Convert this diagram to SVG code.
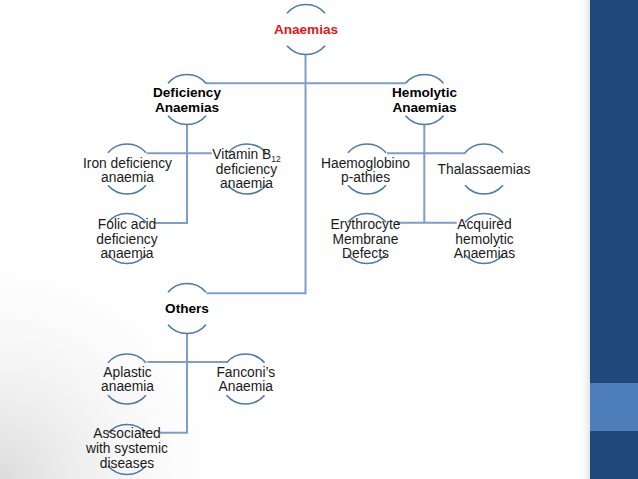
<svg xmlns="http://www.w3.org/2000/svg" width="638" height="479" viewBox="0 0 638 479">
<defs>
<style>
.t{font-family:"Liberation Sans",Arial,sans-serif;font-size:13.8px;fill:#1a1a1a;text-anchor:middle}
.b{font-weight:bold;font-size:13.6px;fill:#000}
.r{fill:#E0161E}
.arc{fill:none;stroke:#4E79A7;stroke-width:1.6}
.ln{fill:none;stroke:#7F9DC7;stroke-width:2}
</style>
<path id="arcs" class="arc" d="M-19,-16.2 A25,25 0 0 1 19,-16.2 M19,16.2 A25,25 0 0 1 -19,16.2"/>
<radialGradient id="bl" cx="0" cy="479" r="260" gradientUnits="userSpaceOnUse">
<stop offset="0" stop-color="#dcdcdc"/>
<stop offset="1" stop-color="#ffffff" stop-opacity="0"/>
</radialGradient>
<linearGradient id="sh" x1="578" y1="0" x2="590" y2="0" gradientUnits="userSpaceOnUse">
<stop offset="0" stop-color="#ffffff" stop-opacity="0"/>
<stop offset="1" stop-color="#e6e6e6"/>
</linearGradient>
</defs>
<rect width="638" height="479" fill="#fff"/>
<rect width="638" height="479" fill="url(#bl)"/>
<rect x="578" y="0" width="12" height="479" fill="url(#sh)"/>
<rect x="590" y="0" width="48" height="479" fill="#20487A"/>
<rect x="590" y="383" width="48" height="48" fill="#4F7FBA"/>

<g id="connectors">
<path class="ln" d="M305.5,54.5 V293.3 H206.5"/>
<path class="ln" d="M205.5,83.3 H405.5"/>
<path class="ln" d="M187,124.5 V223 H155 M146.7,153.3 H211.7"/>
<path class="ln" d="M424.3,124.5 V222.7 M387,153.3 H465.7 M397,222.7 H456.7"/>
<path class="ln" d="M187,333.5 V432.7 H160 M147.3,362 H226.7"/>
</g>

<g id="anaemias"><use href="#arcs" x="306" y="29.5"/><text class="t b r" x="306" y="34">Anaemias</text></g>
<g id="deficiency"><use href="#arcs" x="187" y="99.5"/><text class="t b" x="187" y="97.3">Deficiency<tspan x="187" dy="14.4">Anaemias</tspan></text></g>
<g id="hemolytic"><use href="#arcs" x="424.5" y="99.5"/><text class="t b" x="424.5" y="97.3">Hemolytic<tspan x="424.5" dy="14.4">Anaemias</tspan></text></g>
<g id="others"><use href="#arcs" x="187" y="308.5"/><text class="t b" x="187" y="313.3">Others</text></g>

<g id="iron"><use href="#arcs" x="127" y="169"/><text class="t" x="127.5" y="167.7">Iron deficiency<tspan x="127.5" dy="14">anaemia</tspan></text></g>
<g id="vitamin"><use href="#arcs" x="247" y="169"/><text class="t" x="246.5" y="159">Vitamin B<tspan font-size="8.5" dy="2.5">12</tspan><tspan x="246.5" dy="12.8">deficiency</tspan><tspan x="246.5" dy="14">anaemia</tspan></text></g>
<g id="folic"><use href="#arcs" x="127" y="238.5"/><text class="t" x="127" y="229.3">Folic acid<tspan x="127" dy="14.3">deficiency</tspan><tspan x="127" dy="14.1">anaemia</tspan></text></g>

<g id="haemoglobinopathies"><use href="#arcs" x="367" y="169"/><text class="t" x="365.5" y="167.7">Haemoglobino<tspan x="365.5" dy="14">p-athies</tspan></text></g>
<g id="thalassaemias"><use href="#arcs" x="484" y="169"/><text class="t" x="484" y="174.3">Thalassaemias</text></g>
<g id="erythrocyte"><use href="#arcs" x="367" y="238.5"/><text class="t" x="365.5" y="229.3">Erythrocyte<tspan x="365.5" dy="14.3">Membrane</tspan><tspan x="365.5" dy="14.1">Defects</tspan></text></g>
<g id="acquired"><use href="#arcs" x="484" y="238.5"/><text class="t" x="484.5" y="229.3">Acquired<tspan x="484.5" dy="14.3">hemolytic</tspan><tspan x="484.5" dy="14.1">Anaemias</tspan></text></g>

<g id="aplastic"><use href="#arcs" x="127" y="379"/><text class="t" x="127.5" y="376.7">Aplastic<tspan x="127.5" dy="14.3">anaemia</tspan></text></g>
<g id="fanconi"><use href="#arcs" x="245.5" y="379"/><text class="t" x="245.8" y="376.7">Fanconi’s<tspan x="245.8" dy="14.3">Anaemia</tspan></text></g>
<g id="associated"><use href="#arcs" x="127" y="449.5"/><text class="t" x="127" y="438.3">Associated<tspan x="127" dy="15">with systemic</tspan><tspan x="127" dy="14.4">diseases</tspan></text></g>
</svg>
